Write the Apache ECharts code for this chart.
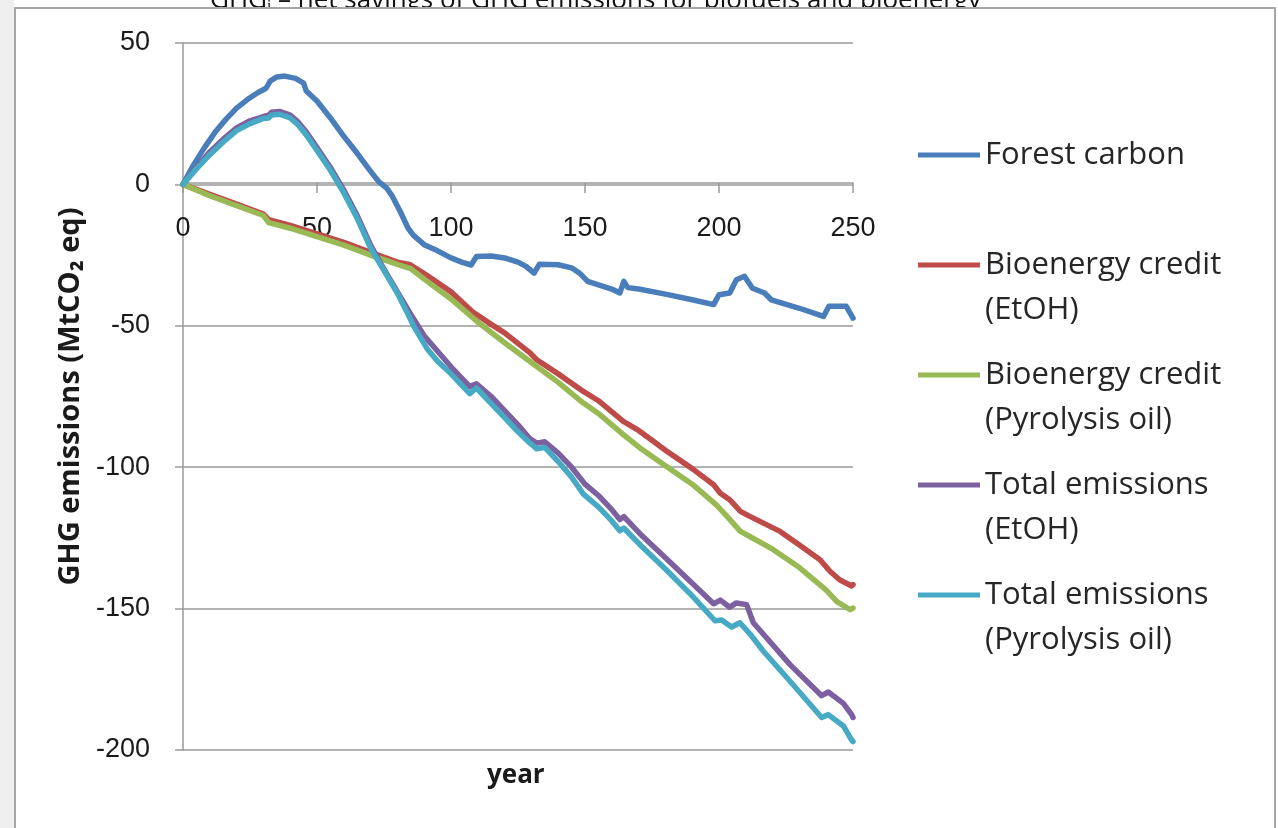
<!DOCTYPE html>
<html>
<head>
<meta charset="utf-8">
<script src="https://cdn.jsdelivr.net/npm/echarts@6/dist/echarts.min.js"></script>
<style>
html,body{margin:0;padding:0;background:#fff;}
#c{width:1278px;height:828px;}
</style>
</head>
<body>
<div id="c"></div>
<script>
// ---- data ----
const seriesNames = ['Forest carbon', 'Bioenergy credit\n(EtOH)', 'Bioenergy credit\n(Pyrolysis oil)', 'Total emissions\n(EtOH)', 'Total emissions\n(Pyrolysis oil)'];
const xTicks = [0, 50, 100, 150, 200, 250];
const yTicks = [-200, -150, -100, -50, 0, 50];

const forestYears = [0,4,8,12,16,20,24,28,31,32.5,35,38,42,45,46,50,55,60,65,70,73,76,78,81,84,86,90,95,100,104,107.5,109.5,115,120,125,128,131,133,140,145,148,151,155,160,163,164.5,166,170,180,190,198,200,204,206.5,209.5,212.5,217,219.5,230,239,241,247.5,250];
const forestValues = [0,7,13,18.5,23,27,30,32.5,34,36.5,38,38.3,37.5,35.8,33,29.5,23.5,17,11,4.6,1,-1.3,-4,-9.5,-15.5,-18,-21.3,-23.5,-26,-27.5,-28.5,-25.5,-25.3,-26,-27.5,-29,-31.4,-28.2,-28.4,-29.5,-31.4,-34.3,-35.5,-37,-38.4,-34.3,-36.5,-37,-38.8,-40.8,-42.5,-39,-38.4,-33.7,-32.5,-36.7,-38.4,-40.8,-43.8,-46.7,-43.1,-43.1,-47.3];

const etohCreditYears = [0,10,20,30,32,40,50,60,70,80,84.5,90,100,108,115,120,129.5,132,140,149.4,155,164.3,170,175,180,190,198,200.5,204,208,211.5,222.8,230,237.7,241.4,245,249.5,250];
const etohCreditValues = [0,-3.5,-7,-10.5,-12.5,-14.5,-17.5,-20.5,-24,-27.5,-28.3,-31.5,-38,-45,-49.5,-52.5,-59.6,-62,-67,-73.2,-76.5,-83.8,-87,-90.5,-94,-100.5,-106.2,-109.2,-111.5,-115.6,-117.4,-122.7,-127.5,-132.7,-136.8,-139.8,-142,-141.5];

const pyroCreditYears = [0,10,20,30,32,40,50,60,70,80,85,90,100,109.6,120,132,140,149.4,155,164.3,170.5,180,190,199,203,208,211.5,220,230,240,244,249,250];
const pyroCreditValues = [0,-4,-7.5,-11,-13.5,-15.5,-18.5,-21.5,-25,-28.3,-29.8,-33.5,-40.5,-48.4,-56,-64.4,-70,-77.3,-81,-88.5,-93.2,-99.5,-106,-113.3,-117.4,-122.7,-124.5,-129,-135.5,-143.5,-147.5,-150.4,-149.8];

const etohTotalYears = [0,5,10,15,20,25,30,32,33,36,40,43,46,50,55,60,65,70,75,80,85,90,95,100,107,109.5,115,120,125,129.5,132,135,140,145,150,155,160,163,164.5,166,170.5,180,190,198,200.5,204,206.5,210.3,212.8,217.8,226.5,238.3,240.8,246.4,249.5,250];
const etohTotalValues = [0,6,11.5,16,20,22.5,24,24.5,25.5,25.8,24.5,22,18.5,13,6,-2,-11,-21.5,-30,-38,-46,-53.5,-59,-64.5,-71.5,-70.5,-75,-80,-85,-90,-91.5,-91,-95,-100,-106,-110,-115,-118.5,-117.5,-119,-123.5,-132,-141,-148.3,-147,-149.5,-148,-148.6,-155,-160.4,-169.8,-180.8,-179.5,-183.5,-187.5,-188.5];

const pyroTotalYears = [0,5,10,15,20,25,30,32,33,36,40,43,46,50,55,60,65,70,75,80,83.5,86,91,95,100,107,109.5,115,120,125,129.5,132,135,140,145,149.4,155,160,163,164.5,166,170.5,180,190,198.5,201,204.7,207.8,211.6,216.5,226.5,238.3,240.8,246.4,249.5,250];
const pyroTotalValues = [0,5.5,10.5,15,19,21.5,23.3,23.5,24.5,24.8,23.5,21,17.5,12,5,-3,-12,-22.5,-30.5,-38.5,-45,-50,-58,-62.5,-67,-74,-72,-77.5,-82.5,-87.5,-91.5,-93.5,-93,-98,-103.5,-109.5,-114,-119,-122.5,-121.5,-123,-127.4,-136,-145.5,-154.3,-154,-156.5,-155,-159,-165,-175.7,-188.5,-187.5,-191.5,-196.5,-197];

// ---- styling ----
const colors = ['#4A7EBB', '#BE4B48', '#98B954', '#7D60A0', '#46AAC5'];
const gridColor = '#9a9a9a';
const legendCenters = [155, 265, 375, 485, 595];

function zip(xs, ys) { return xs.map((x, i) => [x, ys[i]]); }
const allData = [
  zip(forestYears, forestValues),
  zip(etohCreditYears, etohCreditValues),
  zip(pyroCreditYears, pyroCreditValues),
  zip(etohTotalYears, etohTotalValues),
  zip(pyroTotalYears, pyroTotalValues)
];

const chart = echarts.init(document.getElementById('c'), null, {renderer: 'canvas'});

const LH = 45;
const legends = seriesNames.map((name, i) => {
  const twoLine = name.indexOf('\n') >= 0;
  return {
    data: [name],
    orient: 'vertical',
    left: 918,
    top: twoLine ? legendCenters[i] - 1.5 * LH : legendCenters[i] - 0.5 * LH,
    padding: 0,
    icon: 'rect',
    itemWidth: 62,
    itemHeight: 5,
    selectedMode: false,
    formatter: n => (n.indexOf('\n') >= 0 ? ' \n' + n : n),
    textStyle: {
      fontFamily: 'Open Sans',
      fontSize: 31,
      color: '#262626',
      lineHeight: LH
    }
  };
});

const option = {
  animation: false,
  backgroundColor: '#ffffff',
  color: colors,
  graphic: [
    { type: 'rect', z: -10, shape: {x: 0, y: 0, width: 14, height: 828}, style: {fill: '#efefef'} },
    { type: 'text', z: -9, left: 210, top: -12,
      style: {text: 'GHG\u1D62 \u2013 net savings of GHG emissions for biofuels and bioenergy', font: '26px "Open Sans"', fill: '#111'} },
    { type: 'rect', z: -8, shape: {x: 15, y: 8, width: 1260, height: 830}, style: {fill: '#ffffff', stroke: '#a6a6a6', lineWidth: 2} },
    { type: 'text', z: 5, left: 487, top: 763,
      style: {text: 'year', font: 'bold 26px "Open Sans"', fill: '#1a1a1a'} }
  ],
  legend: legends,
  grid: { left: 183, top: 43, width: 670, height: 707, containLabel: false },
  xAxis: {
    type: 'value',
    position: 'bottom',
    offset: -567,
    min: xTicks[0], max: xTicks[xTicks.length - 1], interval: 50,
    axisLine: { onZero: false, lineStyle: {color: gridColor, width: 1.5} },
    axisTick: { show: true, length: 10, lineStyle: {color: gridColor, width: 1.5} },
    axisLabel: { margin: 32, fontFamily: 'Liberation Sans', fontSize: 27, color: '#1a1a1a' },
    splitLine: { show: false }
  },
  yAxis: {
    type: 'value',
    min: yTicks[0], max: yTicks[yTicks.length - 1], interval: 50,
    name: 'GHG emissions (MtCO\u2082 eq)',
    nameLocation: 'middle',
    nameRotate: 90,
    nameGap: 98,
    nameTextStyle: { fontFamily: 'Open Sans', fontWeight: 'bold', fontSize: 29, color: '#1a1a1a' },
    axisLine: { show: true, onZero: false, lineStyle: {color: gridColor, width: 1.5} },
    axisTick: { show: true, length: 8, lineStyle: {color: gridColor, width: 1.5} },
    axisLabel: { margin: 33, fontFamily: 'Liberation Sans', fontSize: 27, color: '#1a1a1a' },
    splitLine: { show: true, lineStyle: {color: gridColor, width: 1.5} }
  },
  series: seriesNames.map((name, i) => ({
    name: name,
    type: 'line',
    data: allData[i],
    symbol: 'none',
    showSymbol: false,
    smooth: false,
    lineStyle: { width: 5.5, color: colors[i], cap: 'round', join: 'round' },
    itemStyle: { color: colors[i] },
    z: 2 + i
  }))
};
chart.setOption(option);
</script>
</body>
</html>
